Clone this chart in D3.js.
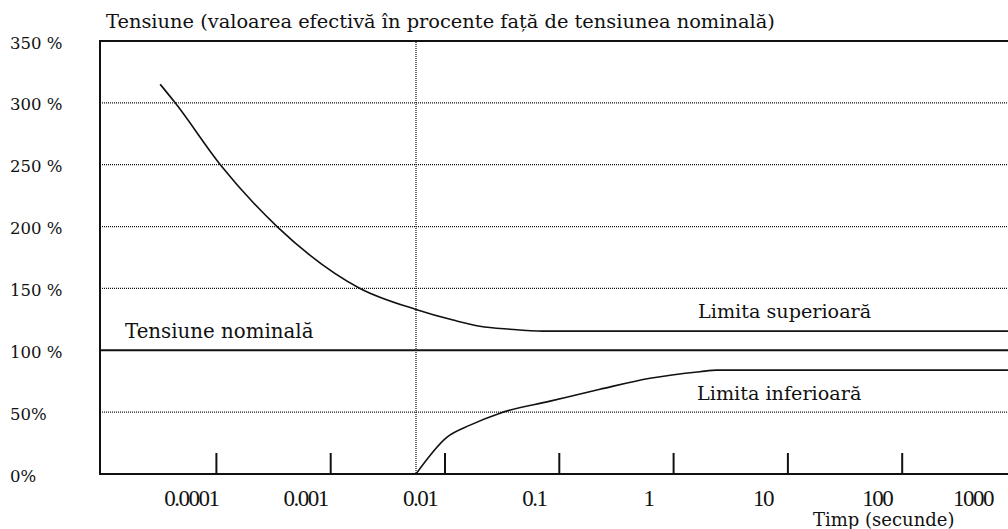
<!DOCTYPE html>
<html>
<head>
<meta charset="utf-8">
<script src="https://cdn.jsdelivr.net/npm/d3@7"></script>
<style>
  html, body { margin: 0; padding: 0; background: #fff; }
  svg { display: block; }
</style>
</head>
<body>
<svg id="chart" width="1008" height="529"></svg>
<script>
// Tolerance envelope: voltage (% of nominal) versus event duration (s)
const timeTicks = [0.0001, 0.001, 0.01, 0.1, 1, 10, 100, 1000];
const timeTickLabels = ["0.0001", "0.001", "0.01", "0.1", "1", "10", "100", "1000"];
const voltageTicks = [0, 50, 100, 150, 200, 250, 300, 350];
const voltageTickLabels = ["0%", "50%", "100 %", "150 %", "200 %", "250 %", "300 %", "350 %"];
const gridLevels = [50, 150, 200, 250, 300];
const nominalLevel = 100;
const markerTime = 0.01;

// upper limit curve
const upperTime = [0.0000578, 0.0000782, 0.000194, 0.000609, 0.00324, 0.01, 0.0211, 0.0362, 0.0663, 0.129, 1510];
const upperVolt = [315, 300, 250, 200, 150, 133, 124.4, 119.4, 117, 115.5, 115.5];

// lower limit curve
const lowerTime = [0.01, 0.0187, 0.0297, 0.0543, 0.149, 0.407, 1.115, 3.05, 4.30, 1510];
const lowerVolt = [0, 29.8, 39.5, 49.2, 58.9, 68.5, 77.4, 82.7, 84, 84];

const W = 1008, H = 529;
const plot = { left: 100, right: 1008, top: 41, bottom: 474 };
const tickMarkShift = 29;   // tick marks sit to the right of their labels
const tickMarkLength = 21;

const svg = d3.select("#chart");

const x = d3.scaleLog().domain([0.0001, 1000]).range([187.4, 987.5]);
const y = d3.scaleLinear().domain([0, 350]).range([plot.bottom, plot.top]);

const serif = "'DejaVu Serif', 'Liberation Serif', serif";
const ink = "#111";

// dotted grid lines
svg.append("g")
  .selectAll("line")
  .data(gridLevels)
  .join("line")
  .attr("x1", plot.left).attr("x2", plot.right)
  .attr("y1", d => y(d)).attr("y2", d => y(d))
  .attr("stroke", ink).attr("stroke-width", 1.2)
  .attr("stroke-dasharray", "1,1");

// vertical dotted marker at 10 ms
svg.append("line")
  .attr("x1", x(markerTime)).attr("x2", x(markerTime))
  .attr("y1", plot.top - 1).attr("y2", plot.bottom)
  .attr("stroke", ink).attr("stroke-width", 1.2)
  .attr("stroke-dasharray", "1,1");

// frame: top border, left axis, bottom axis
svg.append("line")
  .attr("x1", plot.left).attr("x2", plot.right)
  .attr("y1", y(350)).attr("y2", y(350))
  .attr("stroke", ink).attr("stroke-width", 2);
svg.append("line")
  .attr("x1", plot.left).attr("x2", plot.left)
  .attr("y1", y(350) - 1).attr("y2", plot.bottom + 1)
  .attr("stroke", ink).attr("stroke-width", 2);
svg.append("line")
  .attr("x1", plot.left).attr("x2", plot.right)
  .attr("y1", y(0)).attr("y2", y(0))
  .attr("stroke", ink).attr("stroke-width", 2);

// nominal voltage line
svg.append("line")
  .attr("x1", plot.left).attr("x2", plot.right)
  .attr("y1", y(nominalLevel)).attr("y2", y(nominalLevel))
  .attr("stroke", ink).attr("stroke-width", 2);

// x tick marks
svg.append("g")
  .selectAll("line")
  .data(timeTicks.slice(0, 7))
  .join("line")
  .attr("x1", d => x(d) + tickMarkShift).attr("x2", d => x(d) + tickMarkShift)
  .attr("y1", y(0)).attr("y2", y(0) - tickMarkLength)
  .attr("stroke", ink).attr("stroke-width", 2);

// x tick labels, kept inside the right edge
const xLabels = svg.append("g")
  .selectAll("text")
  .data(timeTicks)
  .join("text")
  .attr("x", d => x(d) + 4)
  .attr("y", 506)
  .attr("text-anchor", "middle")
  .attr("font-family", "'Liberation Serif', serif")
  .attr("font-size", 23)
  .attr("letter-spacing", -1.5)
  .attr("fill", ink)
  .text((d, i) => timeTickLabels[i]);
xLabels.each(function () {
  const b = this.getBBox();
  const limit = W - 14;
  if (b.x + b.width > limit) {
    d3.select(this).attr("x", +d3.select(this).attr("x") - (b.x + b.width - limit));
  }
});

// y tick labels
svg.append("g")
  .selectAll("text")
  .data(voltageTicks)
  .join("text")
  .attr("x", 10)
  .attr("y", d => y(d) + 3)
  .attr("dominant-baseline", "middle")
  .attr("font-family", serif)
  .attr("font-size", 16.5)
  .attr("fill", ink)
  .text((d, i) => voltageTickLabels[i]);

// limit curves
const line = d3.line()
  .x(d => x(d[0]))
  .y(d => y(d[1]))
  .curve(d3.curveMonotoneX);

svg.append("path")
  .datum(d3.zip(upperTime, upperVolt))
  .attr("d", line)
  .attr("fill", "none").attr("stroke", ink).attr("stroke-width", 1.6);

svg.append("path")
  .datum(d3.zip(lowerTime, lowerVolt))
  .attr("d", line)
  .attr("fill", "none").attr("stroke", ink).attr("stroke-width", 1.6);

// titles and annotations
const textStyle = sel => sel.attr("font-family", serif).attr("fill", ink);

svg.append("text").call(textStyle)
  .attr("x", 106).attr("y", 28)
  .attr("font-size", 19.4)
  .text("Tensiune (valoarea efectivă în procente față de tensiunea nominală)");

svg.append("text").call(textStyle)
  .attr("x", 125).attr("y", y(nominalLevel) - 12)
  .attr("font-size", 19.8)
  .text("Tensiune nominală");

svg.append("text").call(textStyle)
  .attr("x", 698).attr("y", 318)
  .attr("font-size", 19.2)
  .text("Limita superioară");

svg.append("text").call(textStyle)
  .attr("x", 697).attr("y", 400)
  .attr("font-size", 19.2)
  .text("Limita inferioară");

svg.append("text").call(textStyle)
  .attr("x", 813).attr("y", 526)
  .attr("font-size", 18)
  .text("Timp (secunde)");
</script>
</body>
</html>
